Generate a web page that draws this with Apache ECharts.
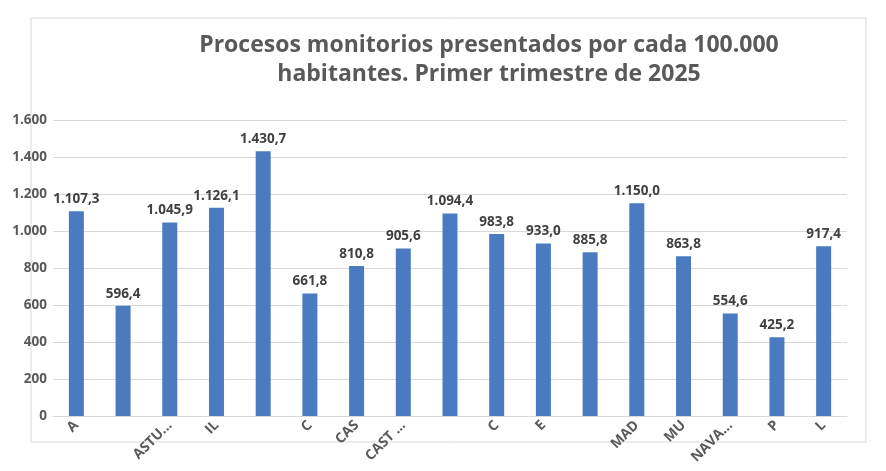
<!DOCTYPE html>
<html>
<head>
<meta charset="utf-8">
<script src="https://cdn.jsdelivr.net/npm/echarts@6/dist/echarts.min.js"></script>
<style>
  html, body { margin: 0; padding: 0; background: #fff; }
  #chart { width: 886px; height: 471px; }
</style>
</head>
<body>
<div id="chart"></div>
<script>
// category labels as they appear (some are blank in the original)
var categories = ['A', '', 'ASTU...', 'IL', '', 'C', 'CAS', 'CAST ...', '', 'C', 'E', '', 'MAD', 'MU', 'NAVA...', 'P', 'L']
var values = [1107.3, 596.4, 1045.9, 1126.1, 1430.7, 661.8, 810.8, 905.6, 1094.4, 983.8, 933.0, 885.8, 1150.0, 863.8, 554.6, 425.2, 917.4]
var yTicks = [0, 200, 400, 600, 800, 1000, 1200, 1400, 1600]

// spanish number format: 1.234,5
function fmt(v, dec) {
  var s = v.toFixed(dec)
  var parts = s.split('.')
  var intPart = parts[0].replace(/\B(?=(\d{3})+(?!\d))/g, '.')
  return parts.length > 1 ? intPart + ',' + parts[1] : intPart
}

var font = '"Open Sans", "Liberation Sans", sans-serif'
var myChart = echarts.init(document.getElementById('chart'))

var option = {
  animation: false,
  backgroundColor: '#fff',
  title: {
    text: 'Procesos monitorios presentados por cada 100.000\nhabitantes. Primer trimestre de 2025',
    left: 484,
    top: 26,
    textAlign: 'center',
    textStyle: {
      fontFamily: font,
      fontSize: 23,
      fontWeight: 'bold',
      color: '#595959',
      lineHeight: 29
    }
  },
  graphic: [{
    type: 'rect',
    z: -1,
    shape: { x: 31, y: 18, width: 835, height: 424 },
    style: { fill: 'none', stroke: '#d9d9d9', lineWidth: 1 }
  }],
  grid: { left: 53, right: 39, top: 120, bottom: 55 },
  xAxis: {
    type: 'category',
    data: categories,
    axisLine: { lineStyle: { color: '#d9d9d9' } },
    axisTick: { show: false },
    axisLabel: {
      interval: 0,
      rotate: 45,
      margin: 7,
      fontFamily: font,
      fontSize: 14,
      fontWeight: 'bold',
      color: '#595959'
    }
  },
  yAxis: {
    type: 'value',
    min: yTicks[0],
    max: yTicks[yTicks.length - 1],
    interval: 200,
    axisLine: { show: false },
    axisTick: { show: false },
    splitLine: { lineStyle: { color: '#d9d9d9' } },
    axisLabel: {
      margin: 6,
      fontFamily: font,
      fontSize: 13.5,
      fontWeight: 'bold',
      color: '#595959',
      formatter: function (v) { return fmt(v, 0) }
    }
  },
  series: [{
    type: 'bar',
    data: values,
    barWidth: 15,
    itemStyle: { color: '#4a7bc0' },
    label: {
      show: true,
      position: 'top',
      distance: 5,
      fontFamily: font,
      fontSize: 13.5,
      fontWeight: 'bold',
      color: '#404040',
      formatter: function (p) { return fmt(p.value, 1) }
    }
  }]
}

myChart.setOption(option, true)
</script>
</body>
</html>
